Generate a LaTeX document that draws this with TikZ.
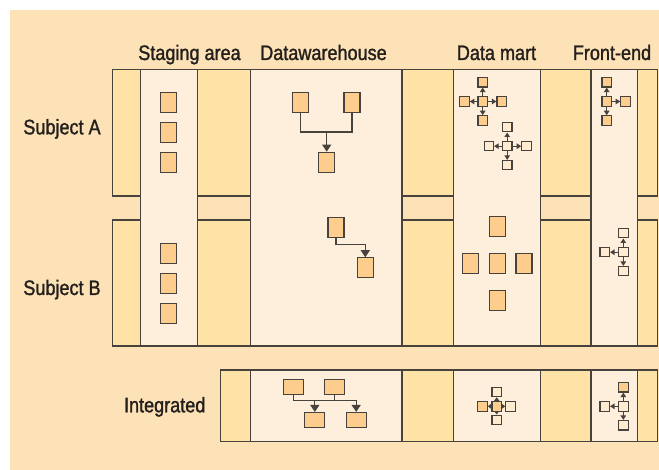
\documentclass[tikz,border=0pt]{standalone}
\usepackage{fontspec}
\setmainfont{Liberation Sans}[FakeStretch=0.86,FakeBold=1.3]
\usetikzlibrary{arrows.meta}
\definecolor{bgc}{HTML}{FDE2B7}
\definecolor{stripc}{HTML}{FFE3A6}
\definecolor{panelc}{HTML}{FEEFDC}
\definecolor{boxo}{HTML}{FDCD8D}
\definecolor{boxl}{HTML}{FEEBD0}
\definecolor{linec}{HTML}{48423C}
\definecolor{txtc}{HTML}{231F1C}
\begin{document}
\begin{tikzpicture}[x=1pt,y=-1pt,
  strip/.style={draw=linec,line width=1.1pt,fill=stripc},
  panel/.style={draw=linec,line width=1.1pt,fill=panelc},
  lbl/.style={text=txtc,font=\fontsize{21}{25}\selectfont,inner sep=0pt,anchor=base},
  tallbox/.style={draw=linec,line width=1.1pt,fill=boxo,inner sep=0pt,minimum width=16pt,minimum height=20pt},
  widebox/.style={draw=linec,line width=1.1pt,fill=boxo,inner sep=0pt,minimum width=20pt,minimum height=15pt},
  sq/.style={draw=linec,line width=1.1pt,fill=boxo,inner sep=0pt,minimum width=9.5pt,minimum height=9.5pt},
  sql/.style={sq,fill=boxl},
  conn/.style={draw=linec,line width=1.2pt},
  bigarr/.style={conn,-{Triangle[length=7pt,width=9pt]}},
  smarr/.style={conn,-{Triangle[length=4.5pt,width=5.5pt]}},
  tinyarr/.style={conn,-{Triangle[length=3.5pt,width=5pt]}}
]
\useasboundingbox (0,0) rectangle (659,470);
\fill[white] (0,0) rectangle (659,470);
\fill[bgc] (10,10) rectangle (659,470);

% rows
\draw[strip] (112.3,69.3) rectangle (657.7,196);
\draw[strip] (112.3,220) rectangle (657.7,346);
\draw[strip] (220.7,370) rectangle (657.7,441.7);

% panels
\draw[panel] (140.3,69.3) rectangle (197.3,346);
\draw[panel] (250.7,69.3) rectangle (402,346);
\draw[panel] (453.7,69.3) rectangle (540.7,346);
\draw[panel] (591,69.3) rectangle (637.7,346);
\draw[panel] (250.7,370) rectangle (402,441.7);
\draw[panel] (453.7,370) rectangle (540.7,441.7);
\draw[panel] (591,370) rectangle (637.7,441.7);

% labels
\node[lbl] (tstage) at (189.5,60) {Staging area};
\node[lbl] (tdw) at (323.5,60) {Datawarehouse};
\node[lbl] (tdm) at (496.5,60) {Data mart};
\node[lbl] (tfe) at (612,60) {Front-end};
\node[lbl] (tsa) at (62,134.3) {Subject A};
\node[lbl] (tsb) at (62,295) {Subject B};
\node[lbl] (tint) at (164.7,412.3) {Integrated};

% staging boxes
\node[tallbox] (sa1) at (168.3,102.5) {};
\node[tallbox] (sa2) at (168.3,132.5) {};
\node[tallbox] (sa3) at (168.3,162.2) {};
\node[tallbox] (sb1) at (168.3,253.7) {};
\node[tallbox] (sb2) at (168.3,283.5) {};
\node[tallbox] (sb3) at (168.3,313.2) {};

% datawarehouse A
\node[tallbox] (da1) at (300.7,102.5) {};
\node[tallbox] (da2) at (352,102.5) {};
\node[tallbox] (da3) at (326.7,162.2) {};
\coordinate (dj) at (326.7,132);
\draw[conn] (da1.south) |- (dj) -| (da2.south);
\draw[bigarr] (dj) -- (da3.north);

% datawarehouse B
\node[tallbox] (db1) at (336,227.2) {};
\node[tallbox] (db2) at (365.3,267.8) {};
\coordinate (dk) at (336,244.3);
\draw[bigarr] (db1.south) -- (dk) -| (db2.north);

% data mart A star 1
\node[sq] (m1c) at (482.7,101.5) {};
\node[sq] (m1t) at (482.7,82.3) {};
\node[sq] (m1b) at (482.7,120.5) {};
\node[sq] (m1l) at (464.5,101.5) {};
\node[sq] (m1r) at (501.7,101.5) {};
\draw[smarr] (m1c.north) -- (m1t.south);
\draw[smarr] (m1c.south) -- (m1b.north);
\draw[smarr] (m1c.west) -- (m1l.east);
\draw[smarr] (m1c.east) -- (m1r.west);

% data mart A star 2
\node[sql] (m2c) at (507.2,146.2) {};
\node[sql] (m2t) at (507.2,127.2) {};
\node[sql] (m2b) at (507.2,165.2) {};
\node[sql] (m2l) at (488.8,146.2) {};
\node[sql] (m2r) at (526.5,146.2) {};
\draw[smarr] (m2c.north) -- (m2t.south);
\draw[smarr] (m2c.south) -- (m2b.north);
\draw[smarr] (m2c.west) -- (m2l.east);
\draw[smarr] (m2c.east) -- (m2r.west);

% front-end A
\node[sq] (f1c) at (606.7,101.5) {};
\node[sq] (f1t) at (606.7,82.3) {};
\node[sq] (f1b) at (606.7,120.5) {};
\node[sq] (f1r) at (625.5,101.5) {};
\draw[smarr] (f1c.north) -- (f1t.south);
\draw[smarr] (f1c.south) -- (f1b.north);
\draw[smarr] (f1c.east) -- (f1r.west);

% data mart B
\node[tallbox] (mb1) at (497.3,226.8) {};
\node[tallbox] (mb2) at (470.3,263.8) {};
\node[tallbox] (mb3) at (497.3,263.8) {};
\node[tallbox] (mb4) at (524,263.8) {};
\node[tallbox] (mb5) at (497.3,300.8) {};

% front-end B
\node[sql] (f2c) at (623.3,252.2) {};
\node[sql] (f2t) at (623.3,233.2) {};
\node[sql] (f2b) at (623.3,271.2) {};
\node[sql] (f2l) at (604.7,252.2) {};
\draw[smarr] (f2c.north) -- (f2t.south);
\draw[smarr] (f2c.south) -- (f2b.north);
\draw[smarr] (f2c.west) -- (f2l.east);

% integrated datawarehouse
\node[widebox] (i1) at (293.7,387.2) {};
\node[widebox] (i2) at (334.8,387.2) {};
\node[widebox] (i3) at (314.8,420) {};
\node[widebox] (i4) at (356.2,420) {};
\coordinate (ih) at (300,400.7);
\draw[bigarr] (i1.south) -- (i1.south |- ih) -| (i4.north);
\draw[conn] (i2.south) -- (i2.south |- ih);
\draw[bigarr] (i3.north |- ih) -- (i3.north);

% integrated data mart
\node[sq] (ic) at (496.7,406.3) {};
\node[sql] (it) at (496.7,392) {};
\node[sql] (ib) at (496.7,419.8) {};
\node[sq] (il) at (482.5,406.3) {};
\node[sql] (ir) at (510.5,406.3) {};
\draw[tinyarr] (ic.north) -- (it.south);
\draw[tinyarr] (ic.south) -- (ib.north);
\draw[tinyarr] (ic.west) -- (il.east);
\draw[tinyarr] (ic.east) -- (ir.west);

% integrated front-end
\node[sql] (jc) at (623.3,406.3) {};
\node[sq] (jt) at (623.3,387.3) {};
\node[sql] (jl) at (604.7,406.3) {};
\node[sql] (jb) at (623.3,425.2) {};
\draw[smarr] (jc.north) -- (jt.south);
\draw[smarr] (jc.west) -- (jl.east);
\draw[smarr] (jc.south) -- (jb.north);
\end{tikzpicture}
\end{document}
